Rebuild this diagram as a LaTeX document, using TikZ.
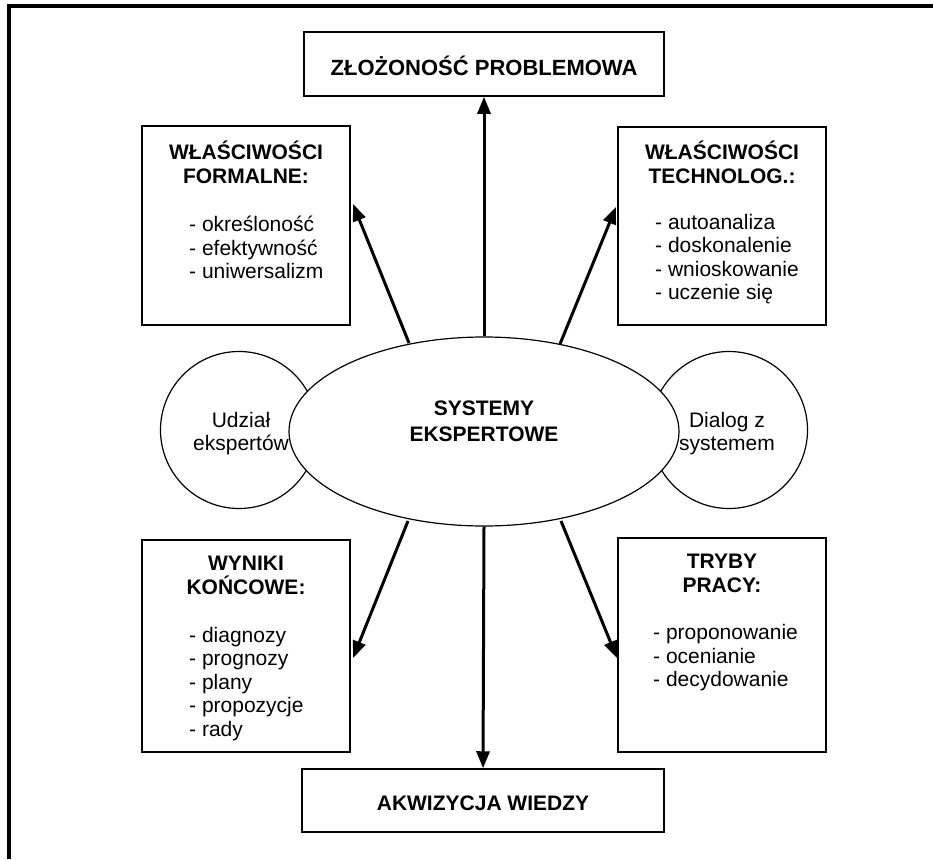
\documentclass[tikz,border=0pt]{standalone}
\usepackage{fontspec}
\setmainfont{Liberation Sans}
\usetikzlibrary{arrows.meta,shapes.geometric}
\tikzset{
  box/.style={draw, line width=1.5pt, inner sep=0pt},
  ttl/.style={font=\fontsize{21}{24}\selectfont\bfseries, align=center, inner sep=0pt},
  items/.style={font=\fontsize{21}{23.5}\selectfont, align=left, inner sep=0pt, anchor=west},
  txt/.style={font=\fontsize{21}{23}\selectfont, align=center, inner sep=0pt},
  oval/.style={draw, line width=1.2pt, fill=white, inner sep=0pt},
  arr/.style={line width=3pt, -{Triangle[length=17pt,width=13pt]}}
}
\begin{document}
\begin{tikzpicture}[x=1pt,y=-1pt]
\useasboundingbox (0,0) rectangle (933,859);
\fill[white] (0,0) rectangle (933,859);
\draw[line width=4pt] (8.5,859) -- (8.5,6) -- (933,6);

% boxes
\node[box, minimum width=360, minimum height=64] (top) at (484,64) {};
\node[ttl, font=\fontsize{22}{24}\selectfont\bfseries] (toptxt) at (484,66) {ZŁOŻONOŚĆ PROBLEMOWA};

\node[box, minimum width=208, minimum height=199] (fbox) at (246,225.5) {};
\node[ttl] (ftitle) at (246,162) {WŁAŚCIWOŚCI\\FORMALNE:};
\node[items] (fitems) at (189,247.5) {- określoność\\- efektywność\\- uniwersalizm};

\node[box, minimum width=208, minimum height=198] (tbox) at (722,226) {};
\node[ttl] (ttitle) at (722,162) {WŁAŚCIWOŚCI\\TECHNOLOG.:};
\node[items] (titems) at (655,259) {- autoanaliza\\- doskonalenie\\- wnioskowanie\\- uczenie się};

\node[box, minimum width=208, minimum height=212] (wbox) at (246,646) {};
\node[ttl] (wtitle) at (246,575) {WYNIKI\\KOŃCOWE:};
\node[items] (witems) at (189,684) {- diagnozy\\- prognozy\\- plany\\- propozycje\\- rady};

\node[box, minimum width=208, minimum height=214] (pbox) at (722,645) {};
\node[ttl] (ptitle) at (722,573) {TRYBY\\PRACY:};
\node[items] (pitems) at (653,658) {- proponowanie\\- ocenianie\\- decydowanie};

\node[box, minimum width=362, minimum height=63] (bot) at (483,800.5) {};
\node[ttl] (bottxt) at (483,803) {AKWIZYCJA WIEDZY};

% circles and ellipse
\node[oval, circle, minimum size=157] (lc) at (239,430) {};
\node[oval, circle, minimum size=157] (rc) at (729,430) {};
\node[oval, ellipse, minimum width=390, minimum height=189] (ell) at (484,431.5) {};
\node[txt] (lctxt) at (241,434) {Udział\\ekspertów};
\node[txt] (rctxt) at (727,434) {Dialog z\\systemem};
\node[ttl, font=\fontsize{21}{26}\selectfont\bfseries] (elltxt) at (484,421) {SYSTEMY\\EKSPERTOWE};

% arrows
\coordinate (a1s) at (409,343);
\coordinate (a1e) at (353,204);
\coordinate (a2s) at (560,344);
\coordinate (a2e) at (616,207);
\coordinate (a3s) at (408,521);
\coordinate (a3e) at (353,658);
\coordinate (a4s) at (561,521);
\coordinate (a4e) at (617,658);
\draw[arr] (ell.north) -- (top.south);
\draw[arr] (ell.south) -- (bot.north);
\draw[arr] (a1s) -- (a1e);
\draw[arr] (a2s) -- (a2e);
\draw[arr] (a3s) -- (a3e);
\draw[arr] (a4s) -- (a4e);
\end{tikzpicture}
\end{document}
